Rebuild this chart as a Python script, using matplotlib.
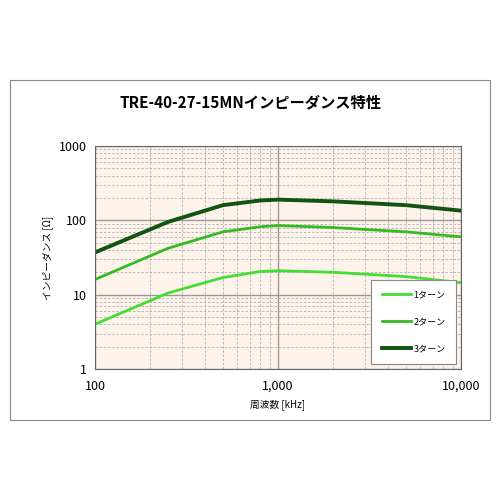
import matplotlib
matplotlib.use("Agg")
import matplotlib.pyplot as plt
from matplotlib.ticker import FuncFormatter, NullFormatter
from matplotlib.patches import Rectangle

plt.rcParams['font.family'] = ['Noto Sans CJK JP', 'DejaVu Sans']

freq = [100, 250, 500, 800, 1000, 2000, 5000, 10000]
turn1 = [4.0, 10.5, 17, 20.5, 21, 20, 17.5, 14.5]
turn2 = [16, 42, 70, 82, 85, 80, 70, 60]
turn3 = [37, 95, 160, 185, 190, 180, 160, 135]
labels = ['1ターン', '2ターン', '3ターン']
colors = ['#44dd33', '#33bb22', '#115511']
widths = [2, 2, 2.8]

fig = plt.figure(figsize=(5, 5), dpi=100)
fig.patches.append(Rectangle((0.02, 0.16), 0.96, 0.68, transform=fig.transFigure,
                             fill=False, edgecolor='#888888', lw=0.8))
ax = fig.add_axes([0.19, 0.262, 0.732, 0.446])
ax.set_facecolor('#fdf3ea')
for y, c, w, l in zip([turn1, turn2, turn3], colors, widths, labels):
    ax.plot(freq, y, color=c, lw=w, label=l)
ax.set_xscale('log'); ax.set_yscale('log')
ax.set_xlim(100, 10000); ax.set_ylim(1, 1000)
ax.xaxis.set_major_formatter(FuncFormatter(lambda v, p: f'{int(v):,}'))
ax.yaxis.set_major_formatter(FuncFormatter(lambda v, p: f'{int(v)}'))
ax.xaxis.set_minor_formatter(NullFormatter()); ax.yaxis.set_minor_formatter(NullFormatter())
ax.grid(which='major', color='#999999', lw=1)
ax.grid(which='minor', color='#b0b0b0', lw=0.6, ls=(0, (3, 2)))
ax.tick_params(which='both', length=0, labelsize=9)
ax.tick_params(axis='x', pad=8)
ax.tick_params(axis='y', pad=6)
for s in ax.spines.values():
    s.set_color('#666666')
ax.set_xlabel('周波数 [kHz]', fontsize=7)
ax.set_ylabel('インピーダンス [Ω]', fontsize=7)
fig.text(0.5, 0.795, 'TRE-40-27-15MNインピーダンス特性', fontsize=11, fontweight='bold',
         ha='center', va='center')
leg = ax.legend(loc='lower right', fontsize=6.5, fancybox=False, edgecolor='#888888',
                labelspacing=2.0, borderpad=1.2, handlelength=3.2, handletextpad=0.3,
                bbox_to_anchor=(1.0, 0.0), framealpha=1)
leg.get_frame().set_linewidth(0.8)
fig.savefig('out.png')
